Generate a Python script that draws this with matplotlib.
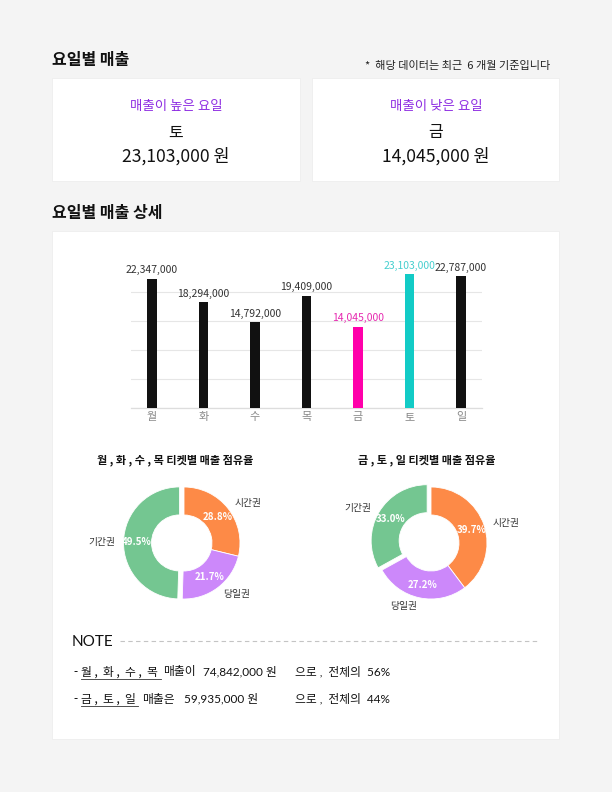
import matplotlib; matplotlib.use('Agg')
import matplotlib.pyplot as plt
from matplotlib.patches import Rectangle
import numpy as np

plt.rcParams['font.family'] = ['Noto Sans CJK KR', 'DejaVu Sans']

# ---- data ----
days = ['월', '화', '수', '목', '금', '토', '일']
sales = [22347000, 18294000, 14792000, 19409000, 14045000, 23103000, 22787000]

ticket_labels = ['시간권', '당일권', '기간권']
weekday_share = [28.8, 21.7, 49.5]   # 월,화,수,목
weekend_share = [39.7, 27.2, 33.0]   # 금,토,일

weekday_idx = [0, 1, 2, 3]
weekend_idx = [4, 5, 6]

# ---- figure, pixel-space background axes ----
W, H = 612, 792
fig = plt.figure(figsize=(W/100, H/100), dpi=100, facecolor='#f4f4f4')
bg = fig.add_axes([0, 0, 1, 1])
bg.set_xlim(0, W); bg.set_ylim(H, 0); bg.axis('off')

def px_axes(x0, y0, x1, y1):
    return fig.add_axes([x0/W, 1-y1/H, (x1-x0)/W, (y1-y0)/H])

# cards
for (x0, y0, x1, y1) in [(52, 78, 300, 181), (312, 78, 559, 181), (52, 231, 559, 739)]:
    bg.add_patch(Rectangle((x0, y0), x1-x0, y1-y0, facecolor='white', edgecolor='#ececec', lw=0.5))

bg.text(52, 60, '요일별 매출', fontsize=11.5, fontweight='bold', va='center', ha='left', color='#111111')
bg.text(550, 66, '*  해당 데이터는 최근  6 개월 기준입니다', fontsize=8, va='center', ha='right', color='#222222')
bg.text(52, 213, '요일별 매출 상세', fontsize=11.5, fontweight='bold', va='center', ha='left', color='#111111')

imax = int(np.argmax(sales)); imin = int(np.argmin(sales))
purple = '#8e2de2'
for cx, title, i in [(176, '매출이 높은 요일', imax), (436, '매출이 낮은 요일', imin)]:
    bg.text(cx, 106, title, fontsize=9.7, color=purple, ha='center', va='center')
    bg.text(cx, 133, days[i], fontsize=11.5, color='#111111', ha='center', va='center')
    bg.text(cx, 156, f'{sales[i]:,} 원', fontsize=12.6, color='#111111', ha='center', va='center')

# ---- bar chart ----
ax = px_axes(131, 263.4, 482, 407.7)
bar_cols = ['#111111'] * len(days)
lab_cols = ['#333333'] * len(days)
bar_cols[imin] = '#ff00aa'; lab_cols[imin] = '#e62ab0'
bar_cols[imax] = '#12cbc6'; lab_cols[imax] = '#45cfcf'
x = np.arange(len(days))
ax.bar(x, sales, width=0.18, color=bar_cols, zorder=3)
for xi, v, c in zip(x, sales, lab_cols):
    ax.annotate(f'{v:,}', (xi, v), xytext=(0, 2.5), textcoords='offset points',
                ha='center', va='bottom', fontsize=7.5, color=c, clip_on=False)
ax.set_xlim(-0.41, 6.41)
ax.set_ylim(0, 25e6)
ax.set_yticks([0, 5e6, 10e6, 15e6, 20e6])
ax.grid(axis='y', color='#e6e6e6', lw=0.8, zorder=0)
ax.axhline(0, color='#dddddd', lw=0.9, zorder=2, clip_on=False)
ax.tick_params(axis='y', length=0, labelleft=False)
ax.tick_params(axis='x', length=0, pad=3, labelsize=8, labelcolor='#888888')
ax.set_xticks(x); ax.set_xticklabels(days)
for s in ax.spines.values():
    s.set_visible(False)
ax.set_facecolor('none')

# ---- donuts ----
pie_cols = ['#fd8a47', '#cc88fa', '#74c691']

def donut(cx, cy, vals, title, tx):
    a = px_axes(cx-70, cy-70, cx+70, cy+70)
    a.pie(vals, labels=ticket_labels, colors=pie_cols, startangle=90, counterclock=False,
          explode=[0, 0, 0.08], radius=1, labeldistance=1.15, pctdistance=0.76,
          autopct='%.1f%%', wedgeprops=dict(width=0.5, edgecolor='white', linewidth=0.6),
          textprops=dict(fontsize=7, color='#333333'))
    for t in a.texts:
        if t.get_text().endswith('%'):
            t.set_color('white'); t.set_fontweight('bold')
    a.set_xlim(-1.25, 1.25); a.set_ylim(-1.25, 1.25)
    a.set_aspect('equal')
    bg.text(tx, 460, title, fontsize=8, fontweight='bold', ha='center', va='center', color='#111111')

donut(184, 543, weekday_share, ' , '.join(days[i] for i in weekday_idx) + ' 티켓별 매출 점유율', 175)
donut(431, 543, weekend_share, ' , '.join(days[i] for i in weekend_idx) + ' 티켓별 매출 점유율', 427)

# ---- NOTE ----
bg.text(72, 642, 'NOTE', fontsize=11, family=['Lato', 'DejaVu Sans'], va='center', ha='left', color='#111111')
bg.plot([120, 540], [641, 641], color='#c4c4c4', lw=0.8, ls=(0, (4, 3)))

total = sum(sales)
wd_sum = sum(sales[i] for i in weekday_idx)
we_sum = sum(sales[i] for i in weekend_idx)
fs = 8.5
for y, idx, verb, vx, s, amt_x in [(672, weekday_idx, '매출이', 163, wd_sum, 203),
                                   (699, weekend_idx, '매출은', 142, we_sum, 184)]:
    bg.text(73, y, '-', fontsize=fs, va='center', ha='left', color='#111111')
    bg.text(81, y, ' ,  '.join(days[i] for i in idx), fontsize=fs, va='center', ha='left', color='#111111')
    x_end = 161 if len(idx) == 4 else 138
    bg.plot([81, x_end], [y+6.5, y+6.5], color='#333333', lw=0.6)
    bg.text(vx, y, verb, fontsize=fs, va='center', ha='left', color='#111111')
    bg.text(amt_x, y, f'{s:,} 원', fontsize=fs, va='center', ha='left', color='#111111',
            family=['Lato', 'Noto Sans CJK KR'])
    bg.text(295, y, f'으로 ,  전체의  {round(s/total*100)}%', fontsize=fs, va='center', ha='left',
            color='#111111', family=['Lato', 'Noto Sans CJK KR'])

fig.savefig('out.png', dpi=100, facecolor=fig.get_facecolor())
